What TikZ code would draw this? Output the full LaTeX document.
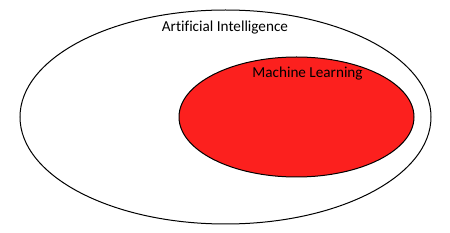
\documentclass[tikz,border=0pt]{standalone}
\usepackage{fontspec}
\setmainfont[Ligatures={NoCommon}]{Carlito}
\definecolor{mlred}{RGB}{252,32,30}
\begin{document}
\begin{tikzpicture}[x=1pt,y=1pt,
  setshape/.style={draw=black,line width=1pt},
  setlabel/.style={anchor=base,font=\fontsize{15.2}{18}\selectfont,inner sep=0pt}]
\useasboundingbox (0,0) rectangle (450,233);
\draw[setshape] (225.5,116) ellipse [x radius=205.5, y radius=107];
\draw[setshape,fill=mlred] (296.5,116) ellipse [x radius=117.5, y radius=60];
\node[setlabel] (ai) at (225,201) {Artificial Intelligence};
\node[setlabel] (ml) at (307.5,155) {Machine Learning};
\end{tikzpicture}
\end{document}
